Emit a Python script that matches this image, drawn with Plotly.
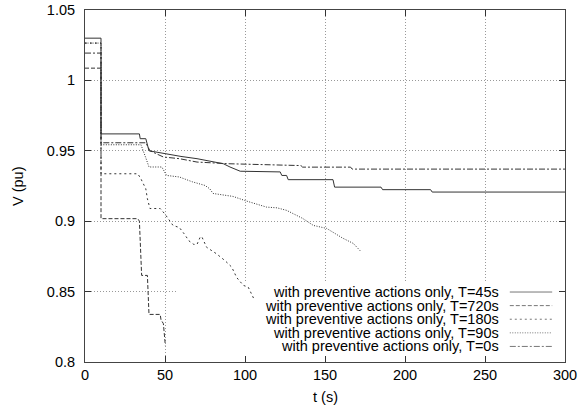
import plotly.graph_objects as go

# ---- data ----
t_45 = [0, 10, 10, 34, 34.5, 38, 40, 49, 60, 70, 80, 86.5, 90.6, 97, 122, 123, 126, 127, 155, 156, 185, 186, 216, 217, 300]
v_45 = [1.030, 1.030, 0.962, 0.962, 0.9586, 0.9586, 0.950, 0.948, 0.946, 0.9444, 0.942, 0.9408, 0.9385, 0.9355,
        0.9350, 0.9325, 0.9325, 0.9295, 0.9295, 0.9242, 0.9242, 0.9224, 0.9224, 0.9207, 0.9207]

t_720 = [0, 10, 10, 33, 34, 35.4, 39, 40, 47, 47.5, 49, 50.2]
v_720 = [1.0087, 1.0087, 0.9018, 0.9018, 0.900, 0.8615, 0.8615, 0.8338, 0.8338, 0.8300, 0.8272, 0.8118]

t_180 = [0, 10, 10, 33, 35, 38, 39, 40.6, 47, 50, 55, 59, 62, 65, 68, 70, 72, 73, 76, 82, 87.5, 91.7, 94.8, 99, 102, 106]
v_180 = [1.0265, 1.0265, 0.9337, 0.9337, 0.930, 0.923, 0.916, 0.909, 0.909, 0.905, 0.897, 0.8955, 0.891, 0.886,
         0.8835, 0.8835, 0.8887, 0.889, 0.8815, 0.877, 0.872, 0.8674, 0.860, 0.8544, 0.8532, 0.8438]

t_90 = [0, 10, 10, 35, 38, 40, 48, 51, 59, 67, 75, 78, 80, 92.5, 101, 113.5, 120, 126, 136, 142.7, 151, 161, 167.7, 172]
v_90 = [1.0265, 1.0265, 0.9543, 0.9543, 0.945, 0.9385, 0.9385, 0.9325, 0.9314, 0.928, 0.9254, 0.9230, 0.9197,
        0.9176, 0.9143, 0.910, 0.9095, 0.9077, 0.902, 0.897, 0.8949, 0.888, 0.8842, 0.879]

t_0 = [0, 10, 10, 38, 40.6, 49, 59, 70, 90, 101, 135, 136, 166, 167, 300]
v_0 = [1.0194, 1.0194, 0.9557, 0.9557, 0.950, 0.9456, 0.9444, 0.942, 0.9408, 0.9405, 0.9395, 0.9384, 0.9384,
       0.9370, 0.9370]

series_names = [
    "with preventive actions only, T=45s",
    "with preventive actions only, T=720s",
    "with preventive actions only, T=180s",
    "with preventive actions only, T=90s",
    "with preventive actions only, T=0s",
]
series_t = [t_45, t_720, t_180, t_90, t_0]
series_v = [v_45, v_720, v_180, v_90, v_0]
dashes = ["solid", "4px,2px", "2px,3px", "1px,1.5px", "6px,2px,2px,2px"]

x_ticks = [0, 50, 100, 150, 200, 250, 300]
y_ticks = [0.8, 0.85, 0.9, 0.95, 1.0, 1.05]
y_tick_text = ["0.8", "0.85", "0.9", "0.95", "1", "1.05"]

FONT = "Liberation Sans, Arial, Helvetica, sans-serif"
FS = 14.5
LINE_COL = "#333333"
AX_COL = "#444444"

fig = go.Figure()
for name, tt, vv, d in zip(series_names, series_t, series_v, dashes):
    fig.add_trace(go.Scatter(x=tt, y=vv, mode="lines", name=name,
                             line=dict(color=LINE_COL, width=1, dash=d), showlegend=False))

axis_common = dict(showline=True, linecolor=AX_COL, linewidth=1, mirror="ticks",
                   ticks="inside", ticklen=6, tickcolor="#333", tickwidth=1,
                   showgrid=True, gridcolor="#999999", griddash="1px,2px", gridwidth=1,
                   zeroline=False, automargin=False, tickfont=dict(family=FONT, size=FS, color="#000"))

fig.update_xaxes(range=[0, 300], tickvals=x_ticks, **axis_common)
fig.update_yaxes(range=[0.8, 1.05], tickvals=y_ticks, ticktext=y_tick_text, ticklabelstandoff=6, **axis_common)

# key area: gnuplot does not draw the grid under the key
fig.add_shape(type="rect", xref="x", yref="y", x0=58, x1=299.5, y0=0.8005, y1=0.8565,
              fillcolor="white", line=dict(width=0), layer="between")

# key (text right-aligned, sample to the right), positioned in axis units
key_text_x = 259.5
key_s0, key_s1 = 265.5, 292.0
key_row0 = 0.8497
key_dy = 0.00966
for i, (name, d) in enumerate(zip(series_names, dashes)):
    yy = key_row0 - i * key_dy
    fig.add_annotation(xref="x", yref="y", x=key_text_x, y=yy, text=name, showarrow=False,
                       xanchor="right", yanchor="middle", borderpad=0,
                       font=dict(family=FONT, size=FS, color="#000"))
    fig.add_shape(type="line", xref="x", yref="y", x0=key_s0, x1=key_s1, y0=yy, y1=yy,
                  line=dict(color="#777", width=1, dash=d))

# axis titles
px_w, px_h = 480.0, 352.0
fig.add_annotation(xref="paper", yref="paper", x=0.5, y=-35 / px_h, text="t (s)", showarrow=False,
                   xanchor="center", yanchor="middle", font=dict(family=FONT, size=FS, color="#000"))
fig.add_annotation(xref="paper", yref="paper", x=-67 / px_w, y=(362 - 186) / px_h, text="V (pu)", showarrow=False,
                   textangle=-90, xanchor="center", yanchor="middle", font=dict(family=FONT, size=FS, color="#000"))

fig.update_layout(width=583, height=411, margin=dict(l=85, r=18, t=10, b=49, autoexpand=False),
                  plot_bgcolor="white", paper_bgcolor="white", showlegend=False)

post = ("var gd=document.getElementById('{plot_id}');"
        "document.body.style.margin='0';document.body.style.padding='0';"
        "gd.style.position='absolute';gd.style.left='0px';gd.style.top='0px';")
fig.write_html("out.html", post_script=post, config={"displayModeBar": False})
